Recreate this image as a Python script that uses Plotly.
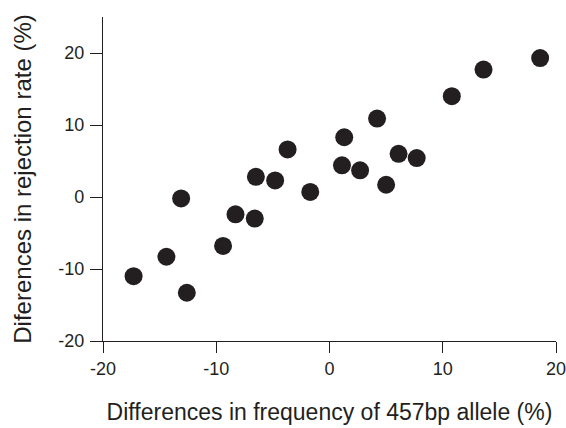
import plotly.graph_objects as go

freq_diff = [-17.3, -14.4, -13.1, -12.6, -9.4, -8.3, -6.6, -6.5, -4.8, -3.7, -1.7,
             1.1, 1.3, 2.7, 4.2, 5.0, 6.1, 7.7, 10.8, 13.6, 18.6]
reject_diff = [-11.0, -8.3, -0.2, -13.3, -6.8, -2.4, -3.0, 2.8, 2.3, 6.6, 0.7,
               4.4, 8.3, 3.7, 10.9, 1.7, 6.0, 5.4, 14.0, 17.7, 19.3]

x_ticks = [-20, -10, 0, 10, 20]
x_ticklabels = ["-20", "-10", "0", "10", "20"]
y_ticks = [-20, -10, 0, 10, 20]
y_ticklabels = ["-20", "-10", "0", "10", "20"]

ink = "#231f20"
fig = go.Figure(go.Scatter(
    x=freq_diff, y=reject_diff, mode="markers",
    marker=dict(size=18, color=ink, line=dict(width=0)),
    cliponaxis=False,
))

font_family = "Liberation Sans, Arial, sans-serif"
fig.update_layout(
    width=566, height=428,
    margin=dict(l=103, r=10, t=17, b=87),
    plot_bgcolor="white", paper_bgcolor="white",
    showlegend=False,
    font=dict(family=font_family, color=ink),
)
fig.update_xaxes(
    range=[-20, 20], tickvals=x_ticks, ticktext=x_ticklabels,
    showgrid=False, zeroline=False, showline=True, linecolor=ink, linewidth=1.3,
    ticks="outside", ticklen=11, tickwidth=1.3, tickcolor=ink,
    tickfont=dict(size=18, color=ink), automargin=False, ticklabeloverflow="allow",
    title=dict(text="Differences in frequency of 457bp allele (%)",
               font=dict(size=23, color=ink), standoff=26),
)
fig.update_yaxes(
    range=[-20, 25], tickvals=y_ticks, ticktext=y_ticklabels,
    showgrid=False, zeroline=False, showline=True, linecolor=ink, linewidth=1.3,
    ticks="outside", ticklen=12, tickwidth=1.3, tickcolor=ink,
    tickfont=dict(size=18, color=ink), automargin=False, ticklabelstandoff=2,
    title=dict(text="Diferences in rejection rate (%)",
               font=dict(size=24, color=ink), standoff=19),
)
fig.write_html(
    "out.html",
    config={"displayModeBar": False},
    post_script="document.body.style.margin='0';document.body.style.overflow='hidden';",
)
